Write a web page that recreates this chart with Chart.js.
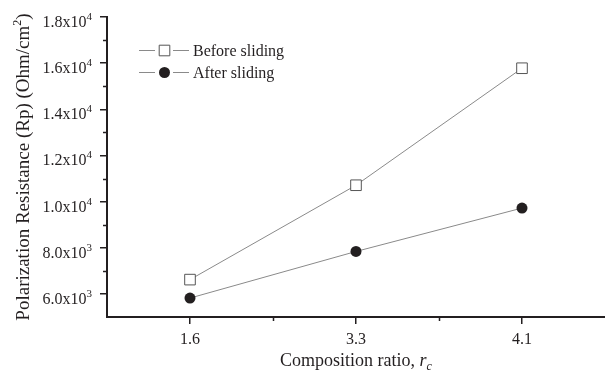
<!DOCTYPE html>
<html>
<head>
<meta charset="utf-8">
<script src="https://cdn.jsdelivr.net/npm/chart.js@4"></script>
<style>
  html, body { margin: 0; padding: 0; background: #fff; }
  #wrap { width: 605px; height: 375px; }
</style>
</head>
<body>
<div id="wrap"><canvas id="rpChart"></canvas></div>
<script>
// data
const categories = ['1.6', '3.3', '4.1'];
const beforeSliding = [6620, 10710, 15780];
const afterSliding = [5820, 7840, 9720];

// y tick labels are drawn as mantissa x 10^exp
const yTickValues = [6000, 8000, 10000, 12000, 14000, 16000, 18000];
const yTickMantissa = ['6.0', '8.0', '1.0', '1.2', '1.4', '1.6', '1.8'];
const yTickExp = ['3', '3', '4', '4', '4', '4', '4'];

const seriesNames = ['Before sliding', 'After sliding'];

const INK = '#231f20';
const LINE = '#8a8a8a';
const SERIF = '"Liberation Serif", "Times New Roman", serif';

function toPoints(values) {
  return values.map((v, i) => ({ x: i + 1, y: v }));
}

// draw a run of text pieces (for superscripts / subscripts)
function drawPieces(ctx, pieces, x, y, align) {
  let total = 0;
  pieces.forEach(p => { ctx.font = p.font; p.w = ctx.measureText(p.text).width; total += p.w; });
  let cx = align === 'center' ? x - total / 2 : (align === 'right' ? x - total : x);
  ctx.textAlign = 'left';
  ctx.textBaseline = 'alphabetic';
  pieces.forEach(p => {
    ctx.font = p.font;
    ctx.fillText(p.text, cx, y + (p.dy || 0));
    cx += p.w;
  });
}

function drawMarker(ctx, ds, x, y) {
  ctx.save();
  ctx.fillStyle = ds.pointBackgroundColor;
  ctx.strokeStyle = ds.pointBorderColor;
  ctx.lineWidth = ds.pointBorderWidth;
  Chart.helpers.drawPoint(ctx, {
    pointStyle: ds.pointStyle,
    radius: ds.pointRadius,
    borderWidth: ds.pointBorderWidth
  }, x, y);
  ctx.restore();
}

const decorPlugin = {
  id: 'decor',
  afterDraw(chart) {
    const ctx = chart.ctx;
    const ys = chart.scales.y;
    const xs = chart.scales.x;
    ctx.save();
    ctx.fillStyle = INK;
    ctx.strokeStyle = INK;

    // minor ticks
    ctx.lineWidth = 1.5;
    ctx.beginPath();
    for (let v = 7000; v <= 17000; v += 2000) {
      const py = Math.round(ys.getPixelForValue(v)) + 0.5;
      ctx.moveTo(ys.right - 4, py);
      ctx.lineTo(ys.right, py);
    }
    [1.5, 2.5].forEach(v => {
      const px = Math.round(xs.getPixelForValue(v)) + 0.5;
      ctx.moveTo(px, xs.top);
      ctx.lineTo(px, xs.top + 4);
    });
    ctx.stroke();

    // y tick labels
    yTickValues.forEach((v, i) => {
      const py = ys.getPixelForValue(v);
      drawPieces(ctx, [
        { text: yTickMantissa[i] + 'x10', font: '16px ' + SERIF },
        { text: yTickExp[i], font: '11px ' + SERIF, dy: -7 }
      ], ys.right - 15, py + 10, 'right');
    });

    // y title
    ctx.save();
    ctx.translate(23, (ys.top + ys.bottom) / 2);
    ctx.rotate(-Math.PI / 2);
    drawPieces(ctx, [
      { text: 'Polarization Resistance (Rp) (Ohm/cm', font: '19px ' + SERIF },
      { text: '2', font: '12px ' + SERIF, dy: -8 },
      { text: ')', font: '19px ' + SERIF }
    ], 0, 6, 'center');
    ctx.restore();

    // x title
    drawPieces(ctx, [
      { text: 'Composition ratio, ', font: '18px ' + SERIF },
      { text: 'r', font: 'italic 18px ' + SERIF },
      { text: 'c', font: 'italic 12px ' + SERIF, dy: 4 }
    ], xs.getPixelForValue(2), 366, 'center');

    // legend
    const rows = [50.5, 72.5];
    chart.data.datasets.forEach((ds, i) => {
      const y = rows[i];
      ctx.strokeStyle = LINE;
      ctx.lineWidth = 1;
      ctx.beginPath();
      ctx.moveTo(139, y); ctx.lineTo(155, y);
      ctx.moveTo(173, y); ctx.lineTo(189, y);
      ctx.stroke();
      drawMarker(ctx, ds, 164.5, y);
      ctx.fillStyle = INK;
      ctx.font = '16px ' + SERIF;
      ctx.textAlign = 'left';
      ctx.textBaseline = 'alphabetic';
      ctx.fillText(seriesNames[i], 193, y + 5);
    });
    ctx.restore();
  }
};

const ctx = document.getElementById('rpChart').getContext('2d');

new Chart(ctx, {
  type: 'line',
  data: {
    datasets: [
      {
        label: seriesNames[0],
        data: toPoints(beforeSliding),
        borderColor: LINE,
        borderWidth: 1,
        pointStyle: 'rect',
        pointRadius: 7.5,
        pointBorderWidth: 1,
        pointBorderColor: '#555',
        pointBackgroundColor: '#fff',
        tension: 0
      },
      {
        label: seriesNames[1],
        data: toPoints(afterSliding),
        borderColor: LINE,
        borderWidth: 1,
        pointStyle: 'circle',
        pointRadius: 5.5,
        pointBorderWidth: 0,
        pointBorderColor: INK,
        pointBackgroundColor: INK,
        tension: 0
      }
    ]
  },
  options: {
    responsive: true,
    maintainAspectRatio: false,
    animation: false,
    layout: { autoPadding: false, padding: { top: 17, right: 0, left: 0, bottom: 0 } },
    scales: {
      x: {
        type: 'linear',
        min: 0.5,
        max: 3.5,
        afterFit: s => { s.height = 58; s.paddingLeft = 0; s.paddingRight = 0; },
        afterBuildTicks: s => { s.ticks = [1, 2, 3].map(v => ({ value: v })); },
        grid: { drawOnChartArea: false, tickLength: 7, color: INK, lineWidth: 1.5 },
        border: { display: true, color: INK, width: 2 },
        ticks: {
          padding: 6,
          color: INK,
          maxRotation: 0,
          font: { family: SERIF, size: 16 },
          callback: v => categories[v - 1] || ''
        }
      },
      y: {
        min: 5000,
        max: 18000,
        afterFit: s => { s.width = 107; s.paddingTop = 0; s.paddingBottom = 0; },
        afterBuildTicks: s => { s.ticks = yTickValues.map(v => ({ value: v })); },
        grid: { drawOnChartArea: false, tickLength: 7, color: INK, lineWidth: 1.5 },
        border: { display: true, color: INK, width: 2 },
        ticks: { callback: () => '' }
      }
    },
    plugins: {
      legend: { display: false },
      tooltip: { enabled: false }
    }
  },
  plugins: [decorPlugin]
});
</script>
</body>
</html>
